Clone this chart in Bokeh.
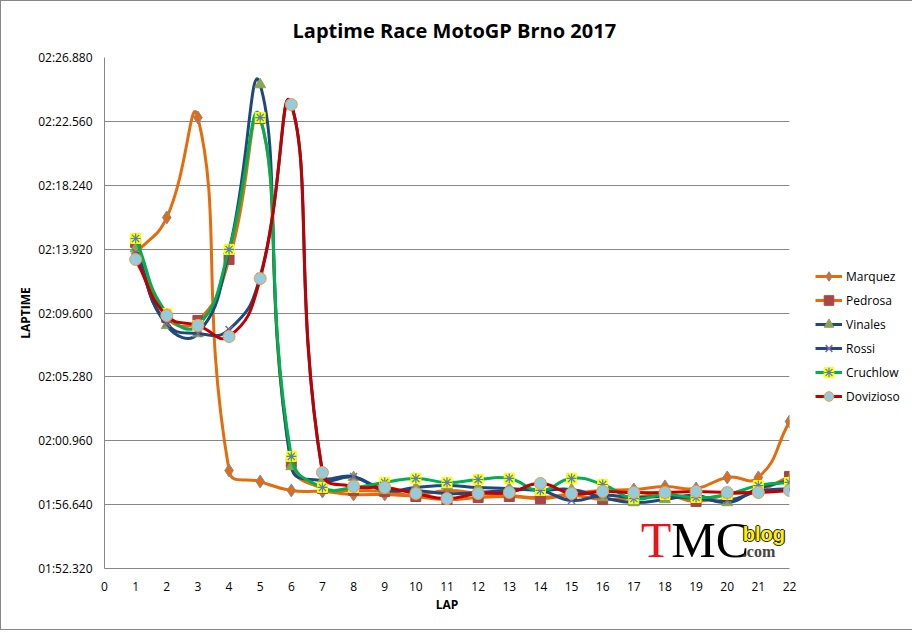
import math
from bokeh.plotting import figure
from bokeh.models import (ColumnDataSource, Legend, LegendItem, FixedTicker, Range1d, Label)
from bokeh.embed import file_html
from bokeh.resources import INLINE

# ---------------- data (lap times in seconds) ----------------
laps = list(range(1, 23))

marquez = [133.62, 136.06, 142.82, 118.95, 118.20, 117.60, 117.53, 117.33, 117.33, 117.26, 117.60,
           117.39, 117.26, 117.12, 117.39, 117.60, 117.66, 117.87, 117.73, 118.48, 118.48, 122.26]
pedrosa = [134.37, 129.30, 129.09, 133.22, 142.75, 119.49, 117.73, 117.60, 117.53, 117.19, 116.99,
           117.12, 117.19, 117.05, 117.26, 116.99, 117.12, 117.33, 116.85, 117.33, 117.60, 118.54]
vinales = [133.96, 128.76, 128.21, 133.83, 145.05, 119.22, 118.27, 118.48, 117.60, 117.80, 117.93,
           117.80, 117.73, 117.60, 117.66, 117.12, 116.78, 116.99, 117.26, 116.78, 117.73, 118.27]
rossi = [133.69, 128.89, 128.21, 128.48, 132.07, 143.70, 118.81, 118.54, 117.66, 117.60, 117.39,
         117.46, 117.60, 117.60, 116.92, 117.26, 117.12, 117.19, 117.05, 116.92, 117.53, 117.73]
cruchlow = [134.64, 129.57, 128.76, 133.90, 142.82, 119.90, 117.80, 117.80, 118.14, 118.41, 118.14,
            118.34, 118.41, 117.60, 118.41, 118.00, 117.05, 117.33, 117.12, 117.33, 117.93, 118.14]
dovizioso = [133.22, 129.43, 128.76, 128.01, 131.93, 143.70, 118.81, 117.87, 117.80, 117.39, 117.05,
             117.39, 117.46, 118.07, 117.39, 117.53, 117.46, 117.46, 117.53, 117.46, 117.46, 117.60]

y_ticks = [112.32, 116.64, 120.96, 125.28, 129.60, 133.92, 138.24, 142.56, 146.88]
y_tick_labels = ["01:52.320", "01:56.640", "02:00.960", "02:05.280", "02:09.600",
                 "02:13.920", "02:18.240", "02:22.560", "02:26.880"]
x_ticks = list(range(0, 23))

riders = ["Marquez", "Pedrosa", "Vinales", "Rossi", "Cruchlow", "Dovizioso"]
series = [marquez, pedrosa, vinales, rossi, cruchlow, dovizioso]

FONT = "Open Sans"
GRID = "#868686"
FW, FH = 685, 511
X0, X1 = 0, 22
Y0, Y1 = 112.32, 146.88

p = figure(frame_width=FW, frame_height=FH,
           min_border_left=103, min_border_right=120, min_border_top=56, min_border_bottom=61,
           output_backend="svg", toolbar_location=None,
           x_range=Range1d(X0, X1), y_range=Range1d(Y0, Y1),
           title="Laptime Race MotoGP Brno 2017")
p.styles = {"border": "1px solid #868686"}
p.outline_line_color = None
p.background_fill_color = "white"
p.border_fill_color = "white"

p.title.align = "left"
p.title.offset = 188
p.title.text_font = FONT
p.title.text_font_size = "20px"
p.title.text_font_style = "bold"
p.title.text_color = "black"
p.title.standoff = 27

p.xgrid.grid_line_color = None
p.ygrid.grid_line_color = GRID
p.ygrid.grid_line_width = 1

p.xaxis.ticker = FixedTicker(ticks=x_ticks)
p.yaxis.ticker = FixedTicker(ticks=y_ticks)
p.yaxis.major_label_overrides = {t: l for t, l in zip(y_ticks, y_tick_labels)}
for ax in (p.xaxis, p.yaxis):
    ax.axis_line_color = GRID
    ax.major_tick_line_color = None
    ax.minor_tick_line_color = None
    ax.major_tick_out = 0
    ax.major_tick_in = 0
    ax.major_label_text_font = FONT
    ax.major_label_text_font_size = "12px"
    ax.major_label_text_color = "black"
    ax.axis_label_text_font = FONT
    ax.axis_label_text_font_size = "12px"
    ax.axis_label_text_font_style = "bold"
    ax.axis_label_text_color = "black"
p.xaxis.axis_label = "LAP"
p.yaxis.axis_label = "LAPTIME"
p.xaxis.major_label_standoff = 13
p.yaxis.major_label_standoff = 12
p.xaxis.axis_label_standoff = 2
p.yaxis.axis_label_standoff = 1

line_colors = ["#E46C0A", "#E46C0A", "#1F497D", "#1F497D", "#00B050", "#C00000"]

# pixel scale used only to shape the smoothed curves the way a spreadsheet does
SX = FW / (X1 - X0)
SY = FH / (Y1 - Y0)
TENSION = 0.5


def bezier_source(xs, ys):
    n = len(xs)
    P = [(x * SX, y * SY) for x, y in zip(xs, ys)]

    def dist(a, b):
        return math.hypot(P[a][0] - P[b][0], P[a][1] - P[b][1])

    cout, cin = [], []
    for i in range(n):
        a = max(i - 1, 0)
        b = min(i + 1, n - 1)
        tx, ty = P[b][0] - P[a][0], P[b][1] - P[a][1]
        d1 = dist(a, i)
        d2 = dist(i, b)
        tot = d1 + d2 if d1 + d2 > 0 else 1.0
        cout.append((P[i][0] + TENSION * tx * d2 / tot, P[i][1] + TENSION * ty * d2 / tot))
        cin.append((P[i][0] - TENSION * tx * d1 / tot, P[i][1] - TENSION * ty * d1 / tot))
    d = dict(x0=[], y0=[], x1=[], y1=[], cx0=[], cy0=[], cx1=[], cy1=[])
    for i in range(n - 1):
        d["x0"].append(xs[i]); d["y0"].append(ys[i])
        d["x1"].append(xs[i + 1]); d["y1"].append(ys[i + 1])
        d["cx0"].append(cout[i][0] / SX); d["cy0"].append(cout[i][1] / SY)
        d["cx1"].append(cin[i + 1][0] / SX); d["cy1"].append(cin[i + 1][1] / SY)
    return ColumnDataSource(d)


NAN = float("nan")
items = []
for name, ys, lc in zip(riders, series, line_colors):
    src = ColumnDataSource(dict(x=laps, y=ys))
    p.bezier(x0="x0", y0="y0", x1="x1", y1="y1", cx0="cx0", cy0="cy0", cx1="cx1", cy1="cy1",
             source=bezier_source(laps, ys), line_color=lc, line_width=3, line_cap="round")
    legend_line = p.line(x=[NAN, NAN], y=[NAN, NAN], line_color=lc, line_width=3)
    rs = [legend_line]
    if name == "Marquez":
        rs.append(p.scatter("x", "y", source=src, marker="diamond", size=13,
                            fill_color="#E46C0A", line_color="#6F8DB8", line_width=1))
    elif name == "Pedrosa":
        rs.append(p.scatter("x", "y", source=src, marker="square", size=10,
                            fill_color="#AA4643", line_color="#AA4643", line_width=1))
    elif name == "Vinales":
        rs.append(p.scatter("x", "y", source=src, marker="triangle", size=11,
                            fill_color="#89A54E", line_color="#89A54E", line_width=1))
    elif name == "Rossi":
        rs.append(p.scatter("x", "y", source=src, marker="x", size=10,
                            line_color="#80699B", line_width=1.5))
    elif name == "Cruchlow":
        rs.append(p.scatter("x", "y", source=src, marker="square", size=10,
                            fill_color="#FFFF00", line_color="#FFFF00", line_width=1))
        rs.append(p.scatter("x", "y", source=src, marker="asterisk", size=10,
                            line_color="#4F81BD", line_width=1.2))
    else:
        rs.append(p.scatter("x", "y", source=src, marker="circle", size=12,
                            fill_color="#93CDDD", line_color="#F79646", line_width=1))
    items.append(LegendItem(label=name, renderers=rs))

legend = Legend(items=items, location=(26, 160), padding=0, margin=0,
                border_line_color=None, background_fill_alpha=0,
                glyph_width=27, glyph_height=24, label_height=24, spacing=0,
                label_standoff=4, label_text_font=FONT, label_text_font_size="12px",
                label_text_color="black")
p.add_layout(legend, "right")

# ---------------- logo (TMC blog .com) ----------------
p.add_layout(Label(x=17.22, y=114.22, text="T", text_font="Liberation Serif", text_font_size="50px",
                   text_color="#E8141B", text_baseline="alphabetic"))
p.add_layout(Label(x=18.2, y=114.22, text="MC", text_font="Liberation Serif", text_font_size="50px",
                   text_color="black", text_baseline="alphabetic"))
for dx, dy in ((-0.035, 0), (0.035, 0), (0, -0.07), (0, 0.07)):
    p.add_layout(Label(x=20.5 + dx, y=114.66 + dy, text="blog", text_font="Liberation Sans",
                       text_font_size="20px", text_font_style="bold", text_color="#222222",
                       text_baseline="alphabetic"))
p.add_layout(Label(x=20.5, y=114.66, text="blog", text_font="Liberation Sans",
                   text_font_size="20px", text_font_style="bold", text_color="#FFEF00",
                   text_baseline="alphabetic"))
p.add_layout(Label(x=20.5, y=113.46, text=".com", text_font="Liberation Serif",
                   text_font_size="16px", text_font_style="bold", text_color="#444444",
                   text_baseline="alphabetic"))

open("out.html", "w").write(file_html(p, INLINE))
